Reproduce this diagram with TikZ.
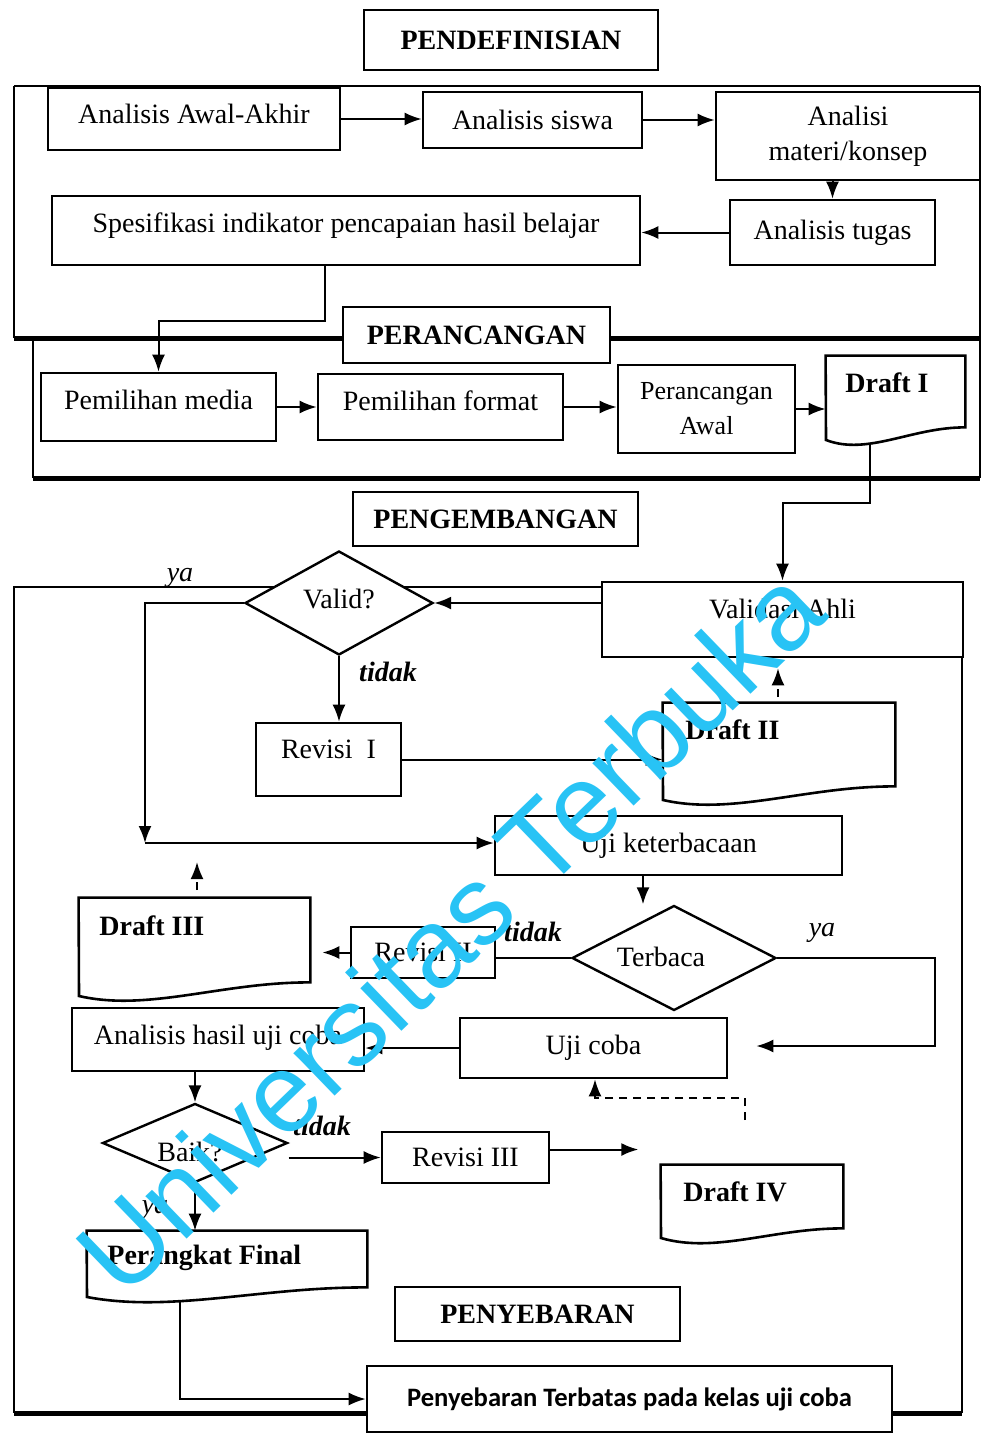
\documentclass[tikz,border=0pt]{standalone}
\usepackage{fontspec}
\setmainfont{Liberation Serif}
\newfontfamily\calib{Carlito}
\newfontfamily\wmfont{Liberation Sans}
\usetikzlibrary{shapes.geometric,arrows.meta,calc}
\definecolor{wmcol}{RGB}{40,195,245}

\tikzset{
 box/.style={draw, line width=1.3pt, fill=white, inner sep=0pt, font=\fontsize{14}{17.5}\selectfont, align=center},
 title/.style={box, font=\fontsize{14}{17}\selectfont\bfseries},
 arr/.style={line width=1pt, -{Latex[length=8.5pt,width=6.5pt]}},
 plain/.style={line width=1pt},
 dasharr/.style={arr, dash pattern=on 4pt off 3pt},
 frame/.style={line width=0.8pt},
 thickframe/.style={line width=2.5pt},
 lab/.style={font=\fontsize{14}{17}\selectfont\itshape, inner sep=0pt},
 labb/.style={font=\fontsize{14}{17}\selectfont\bfseries\itshape, inner sep=0pt},
 docarea/.style={inner sep=0pt, draw=none},
 boxline/.style={line width=1.3pt},
 dtext/.style={font=\fontsize{14}{17}\selectfont\bfseries, inner sep=0pt, anchor=west},
 ttext/.style={font=\fontsize{14}{17}\selectfont, inner sep=0pt},
 dia/.style={diamond, draw, line width=1.2pt, fill=white, inner sep=0pt},
}

\newcommand\bx[7][]{\node[box,#1,minimum width={(#4-#2)*0.5pt},minimum height={(#5-#3)*0.5pt}] (#6) at ({(#2+#4)/2},{(#3+#5)/2}) {#7};}
\newcommand\docshape[6]{%
 \node[docarea, minimum width={(#4-#2)*0.5pt}, minimum height={(#5-#3)*0.5pt}] (#1) at ({(#2+#4)/2},{(#3+#5)/2}) {};
 \draw[boxline, fill=white] (#2,#6) -- (#1.north west) -- (#1.north east) -- (#1.south east) .. controls ({#2+0.62*(#4-#2)},#5) and ({#2+0.3*(#4-#2)},{#6+16}) .. (#2,#6) -- cycle;}

\begin{document}
\begin{tikzpicture}[x=0.5pt,y=-0.5pt]
\useasboundingbox (0,0) rectangle (982,1445);
% frames
\draw[frame] (14,338) -- (14,86);
\draw[line width=1.2pt] (14,86) -- (980,86);
\draw[frame] (980,86) -- (980,478);
\draw[thickframe] (14,338) -- (980,338);
\draw[frame] (33,338) -- (33,478);
\draw[thickframe] (33,478) -- (980,478);
\draw[frame] (602,587) -- (14,587) -- (14,1413);
\draw[frame] (962,657) -- (962,1413);
\draw[thickframe] (14,1413) -- (962,1413);

% titles
\bx[title]{364}{10}{658}{70}{t1}{PENDEFINISIAN}
\bx[title]{343}{307}{610}{363}{t2}{PERANCANGAN}
\bx[title]{353}{492}{638}{546}{t3}{PENGEMBANGAN}
\bx[title]{395}{1287}{680}{1341}{t4}{PENYEBARAN}

% section 1
\bx[text depth=5pt]{48}{88}{340}{150}{aa}{Analisis Awal-Akhir}
\bx{423}{92}{642}{148}{as}{Analisis siswa}
\bx{716}{92}{980}{180}{am}{Analisi\\materi/konsep}
\bx[text depth=3pt]{730}{200}{935}{265}{at}{Analisis tugas}
\bx[text depth=8pt]{52}{196}{640}{265}{sp}{Spesifikasi indikator pencapaian hasil belajar}

% section 2
\bx[text depth=7pt]{41}{373}{276}{441}{pm}{Pemilihan media}
\bx[text depth=6pt]{318}{374}{563}{440}{pf}{Pemilihan format}
\bx[font=\fontsize{13}{17.5}\selectfont]{618}{365}{795}{453}{pa}{Perancangan\\Awal}
\docshape{d1}{826}{356}{965}{427}{440}
\node[dtext, anchor=center] (d1t) at (887,383) {Draft I};

% section 3
\node[dia, minimum width=94pt, minimum height=52pt] (valid) at (339,603) {};
\node[ttext] (validt) at (339,599) {Valid?};
\bx[text depth=11pt]{602}{582}{963}{657}{va}{Validasi Ahli}
\bx[text depth=10pt]{256}{723}{401}{796}{r1}{Revisi~~I}
\docshape{d2}{663}{703}{895}{786}{800}
\node[dtext] (d2t) at (685,730) {Draft II};
\bx{495}{816}{842}{875}{uk}{Uji keterbacaan}
\node[dia, minimum width=102pt, minimum height=52.5pt] (tb) at (674,958) {};
\node[ttext] (tbt) at (661,957) {Terbaca};
\bx{351}{927}{495}{978}{r2}{Revisi II}
\docshape{d3}{79}{898}{310}{982}{996}
\node[dtext] (d3t) at (99,926) {Draft III};
\bx{460}{1018}{727}{1078}{uc}{Uji coba}
\bx[text depth=5pt]{72}{1008}{364}{1071}{ah}{Analisis hasil uji coba}
\node[dia, minimum width=92.5pt, minimum height=39.5pt] (bk) at (195,1143) {};
\node[ttext] (bkt) at (190,1152) {Baik?};
\bx{382}{1132}{549}{1183}{r3}{Revisi III}
\docshape{d4}{661}{1165}{843}{1228}{1238}
\node[dtext] (d4t) at (683,1192) {Draft IV};
\docshape{pfin}{87}{1231}{367}{1287}{1297}
\node[dtext] (pfint) at (107,1258) {Perangkat Final};
\bx[font=\calib\fontsize{13.3}{16}\selectfont\bfseries]{367}{1366}{892}{1432}{pt}{Penyebaran Terbatas pada kelas uji coba}

% labels
\node[lab] (l1) at (180,578) {ya};
\node[labb] (l2) at (388,672) {tidak};
\node[labb] (l3) at (533,932) {tidak};
\node[lab] (l4) at (822,933) {ya};
\node[labb] (l5) at (322,1126) {tidak};
\node[lab] (l6) at (155,1210) {ya};

% connectors
\draw[arr] (aa.east) -- (aa.east -| as.west);
\draw[arr] (as.east) -- (as.east -| am.west);
\draw[arr] (at.north |- am.south) -- (at.north);
\draw[arr] (at.west) -- (at.west -| sp.east);
\draw[arr] ([xshift=-10.5pt]sp.south) -- ++(0,55) -| (pm.north);
\draw[arr] (pm.east) -- (pm.east -| pf.west);
\draw[arr] (pf.east) -- (pf.east -| pa.west);
\draw[arr] (pa.east) -- (pa.east -| d1.west);
\coordinate (d1b) at (870,445);
\draw[arr] (d1b) -- ++(0,58) -| (va.north);
\draw[arr] (va.west |- valid.east) -- (valid.east);
\coordinate (c1) at (145,843);
\draw[arr] (valid.west) -| (c1);
\draw[arr] (c1) -- (c1 -| uk.west);
\draw[arr] (valid.south) -- (valid.south |- r1.north);
\draw[arr] (r1.east) -- (r1.east -| d2.west);
\coordinate (d2t0) at (778,697);
\draw[dasharr, shorten >=5pt] (d2t0) -- (d2t0 |- va.south);
\draw[arr] ([xshift=-12.75pt]uk.south) -- ++(0,28);
\draw[plain] (tb.west) -- (tb.west -| r2.east);
\draw[arr, shorten >=6pt] (r2.west) -- (r2.west -| d3.east);
\coordinate (d3t0) at (197,890);
\draw[dasharr] (d3t0) -- ++(0,-28);
\coordinate (c2) at (935,1046);
\draw[arr, shorten >=14pt] (tb.east) -| (c2) -- (c2 -| uc.east);
\draw[arr] (uc.west) -- (uc.west -| ah.east);
\draw[arr] (bk.north |- ah.south) -- (bk.north);
\draw[arr] (r3.west -| bk.east) -- (r3.west);
\draw[arr] ([yshift=4pt]r3.east) -- ++(88,0);
\coordinate (d4t0) at (745,1120);
\coordinate (c3) at (595,1098);
\draw[dasharr] (d4t0) |- (c3) -- (c3 |- uc.south);
\draw[arr] (bk.south) -- (bk.south |- pfin.north);
\coordinate (pfb) at (180,1300);
\draw[arr] (pfb) |- (pt.west);

% watermark
\node[rotate=44, text=wmcol, font=\wmfont\fontsize{56}{58}\selectfont, inner sep=0pt] (wm) at (449,930) {Universitas Terbuka};
\end{tikzpicture}
\end{document}
